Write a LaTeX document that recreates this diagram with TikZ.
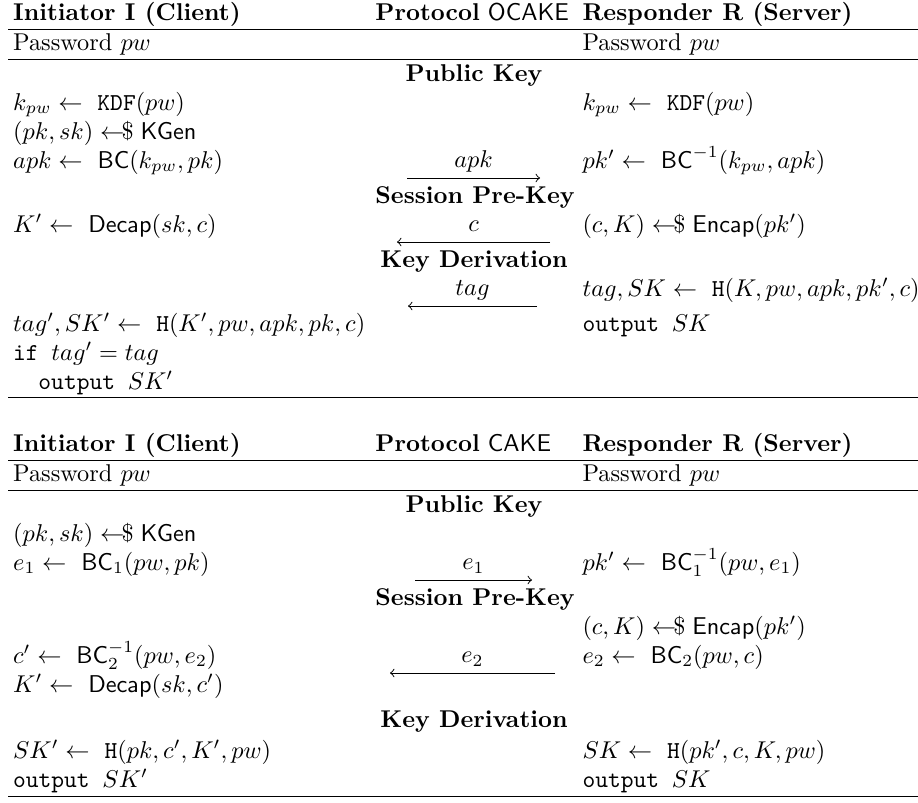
\documentclass[tikz,border=0pt]{standalone}
\usepackage{amsmath}
\newcommand{\samp}{\mathrel{\leftarrow\mkern-7mu\mbox{\$}}}
\begin{document}
\begin{tikzpicture}[x=0.4115pt,y=-0.4115pt]
\tikzstyle{txt}=[anchor=base west,inner sep=0pt]
\tikzstyle{head}=[anchor=base,inner sep=0pt,font=\bfseries]
\tikzstyle{lbl}=[anchor=base,inner sep=0pt,yshift=4.2pt]
\tikzstyle{rule}=[line width=0.4pt]
\tikzstyle{send}=[line width=0.4pt,-to]
\useasboundingbox (0,0) rectangle (918,802);

\path (12.7,20.7) node[txt,font=\bfseries](i1){Initiator I (Client)}
 (375,20.7) node[txt](p1){\textbf{Protocol} \textsf{OCAKE}}
 (582,20.7) node[txt,font=\bfseries](r1){Responder R (Server)};
\draw[rule] (8,29.3) -- (918,29.3);
\path (12.7,50.5) node[txt](pwi1){Password $pw$}
 (582,50.5) node[txt](pwr1){Password $pw$};
\draw[rule] (8,59.5) -- (918,59.5);
\path (474,81) node[head](pub1){Public Key};
\path (12.7,110) node[txt](ki1){$k_{pw} \leftarrow\ \mathtt{KDF}(pw)$}
 (582,110) node[txt](kr1){$k_{pw} \leftarrow\ \mathtt{KDF}(pw)$};
\path (12.7,139) node[txt](gen1){$(pk,sk) \samp \mathsf{KGen}$};
\path (12.7,168) node[txt](bc1){$apk \leftarrow\ \mathsf{BC}(k_{pw},pk)$}
 (582,168) node[txt](ibc1){$pk' \leftarrow\ \mathsf{BC}^{-1}(k_{pw},apk)$}
 (407,178) coordinate(a1) (540,178) coordinate(b1);
\draw[send] (a1) -- node[lbl]{$apk$} (b1);
\path (475,203) node[head](spk1){Session Pre-Key};
\path (12.7,232) node[txt](dec1){$K' \leftarrow\ \mathsf{Decap}(sk,c)$}
 (582,232) node[txt](enc1){$(c,K) \samp \mathsf{Encap}(pk')$}
 (550,242) coordinate(a2) (397,242) coordinate(b2);
\draw[send] (a2) -- node[lbl]{$c$} (b2);
\path (474,267) node[head](kd1){Key Derivation};
\path (582,296) node[txt](hr1){$tag, SK \leftarrow\ \mathtt{H}(K,pw,apk,pk',c)$}
 (537,306) coordinate(a3) (408,306) coordinate(b3);
\draw[send] (a3) -- node[lbl]{$tag$} (b3);
\path (12.7,331) node[txt](hi1){$tag', SK' \leftarrow\ \mathtt{H}(K',pw,apk,pk,c)$}
 (582,331) node[txt](outr1){\texttt{output }$SK$};
\path (12.7,360) node[txt](if1){\texttt{if }$tag' = tag$};
\path (38,389) node[txt](outi1){\texttt{output }$SK'$};
\draw[rule] (8,397.5) -- (918,397.5);

\path (12.7,451.7) node[txt,font=\bfseries](i2){Initiator I (Client)}
 (375,451.7) node[txt](p2){\textbf{Protocol} \textsf{CAKE}}
 (582,451.7) node[txt,font=\bfseries](r2){Responder R (Server)};
\draw[rule] (8,460.3) -- (918,460.3);
\path (12.7,481.5) node[txt](pwi2){Password $pw$}
 (582,481.5) node[txt](pwr2){Password $pw$};
\draw[rule] (8,490.5) -- (918,490.5);
\path (474,512) node[head](pub2){Public Key};
\path (12.7,541) node[txt](gen2){$(pk,sk) \samp \mathsf{KGen}$};
\path (12.7,570) node[txt](bc2){$e_1 \leftarrow\ \mathsf{BC}_1(pw,pk)$}
 (582,570) node[txt](ibc2){$pk' \leftarrow\ \mathsf{BC}_1^{-1}(pw,e_1)$}
 (415,580) coordinate(a4) (532,580) coordinate(b4);
\draw[send] (a4) -- node[lbl]{$e_1$} (b4);
\path (475,605) node[head](spk2){Session Pre-Key};
\path (582,634) node[txt](enc2){$(c,K) \samp \mathsf{Encap}(pk')$};
\path (12.7,663) node[txt](ibc3){$c' \leftarrow\ \mathsf{BC}_2^{-1}(pw,e_2)$}
 (582,663) node[txt](bc3){$e_2 \leftarrow\ \mathsf{BC}_2(pw,c)$}
 (555,673) coordinate(a5) (390,673) coordinate(b5);
\draw[send] (a5) -- node[lbl]{$e_2$} (b5);
\path (12.7,692) node[txt](dec2){$K' \leftarrow\ \mathsf{Decap}(sk,c')$};
\path (474,727) node[head](kd2){Key Derivation};
\path (12.7,758) node[txt](hi2){$SK' \leftarrow\ \mathtt{H}(pk,c',K',pw)$}
 (582,758) node[txt](hr2){$SK \leftarrow\ \mathtt{H}(pk',c,K,pw)$};
\path (12.7,787) node[txt](outi2){\texttt{output }$SK'$}
 (582,787) node[txt](outr2){\texttt{output }$SK$};
\draw[rule] (8,796) -- (918,796);
\end{tikzpicture}
\end{document}
